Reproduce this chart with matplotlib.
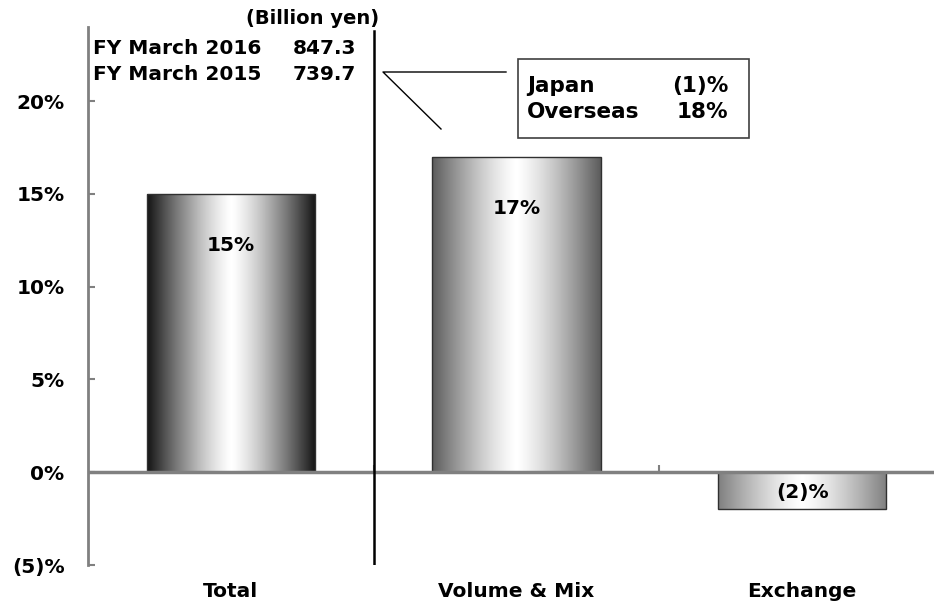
import numpy as np
import matplotlib.pyplot as plt
from matplotlib.patches import Rectangle
from matplotlib.lines import Line2D

# sales growth breakdown (percent)
categories = ['Total', 'Volume & Mix', 'Exchange']
growth = [15, 17, -2]
growth_labels = ['15%', '17%', '(2)%']
yticks = [-5, 0, 5, 10, 15, 20]
ytick_labels = ['(5)%', '0%', '5%', '10%', '15%', '20%']
fy_rows = [('FY March 2016', '847.3'), ('FY March 2015', '739.7')]
region_rows = [('Japan', '(1)%'), ('Overseas', '18%')]

# darkest shade at bar edges (white in the middle)
edge_shade = [0.08, 0.36, 0.5]

plt.rcParams['font.family'] = 'DejaVu Sans'
plt.rcParams['font.weight'] = 'bold'
fs = 14.5

W, H = 934, 607
fig = plt.figure(figsize=(W / 100, H / 100), dpi=100)
ax = fig.add_axes([88 / W, 1 - 565 / H, (945 - 88) / W, (565 - 27) / H])

def fx(px):
    return px / W

def fy(py):
    return 1 - py / H

grey = '#808080'
x = np.arange(len(categories))
bars = ax.bar(x, growth, width=0.59, facecolor='none', edgecolor='#303030',
              linewidth=1.0, zorder=4)

# cylinder-like shading for each bar
t = np.linspace(0, 1, 256)
shape = 1 - np.abs(2 * t - 1) ** 1.3
for bar, dark in zip(bars, edge_shade):
    grad = (dark + (1 - dark) * shape)[None, :]
    x0, y0 = bar.get_x(), bar.get_y()
    im = ax.imshow(grad, extent=[x0, x0 + bar.get_width(), y0, y0 + bar.get_height()],
                   aspect='auto', cmap='gray', vmin=0, vmax=1, zorder=3,
                   interpolation='bilinear')
    im.set_clip_path(bar)

for xi, v, lab in zip(x, growth, growth_labels):
    if v > 0:
        ax.annotate(lab, (xi, v), xytext=(0, -37), textcoords='offset points',
                    ha='center', va='center', fontsize=fs, fontweight='bold', zorder=6)
    else:
        ax.text(xi, v / 2 - 0.1, lab, ha='center', va='center',
                fontsize=fs, fontweight='bold', zorder=6)

ax.set_xlim(-0.5, 2.5)
ax.set_ylim(-5, 24)

ax.axhline(0, color=grey, linewidth=2.5, zorder=5)
ax.vlines([0.5, 1.5], 0, 0.4, color=grey, linewidth=1.5, zorder=5)
ax.axvline(0.5, ymin=0, ymax=(23.8 + 5) / 29, color='black', linewidth=1.8, zorder=6)

for s in ['top', 'right', 'bottom']:
    ax.spines[s].set_visible(False)
ax.spines['left'].set_color(grey)
ax.spines['left'].set_linewidth(2)

ax.set_yticks(yticks, ytick_labels)
ax.tick_params(axis='y', direction='in', length=5, width=1.5, color=grey,
               pad=17, labelsize=fs)
ax.set_xticks(x, categories)
ax.tick_params(axis='x', length=0, pad=12, labelsize=fs)
for lab in ax.get_xticklabels() + ax.get_yticklabels():
    lab.set_fontweight('bold')

# unit and fiscal-year totals
fig.text(fx(313), fy(18), '(Billion yen)', ha='center', va='center',
         fontsize=14, fontweight='bold')
for i, (name, val) in enumerate(fy_rows):
    yy = fy(48 + 27 * i)
    fig.text(fx(93), yy, name, ha='left', va='center', fontsize=fs, fontweight='bold')
    fig.text(fx(356), yy, val, ha='right', va='center', fontsize=fs, fontweight='bold')

# callout box for Volume & Mix
fig.add_artist(Rectangle((fx(518), fy(138)), fx(749) - fx(518), fy(59) - fy(138),
                         transform=fig.transFigure, facecolor='white',
                         edgecolor='#404040', linewidth=1.2))
fig.add_artist(Line2D([fx(506), fx(383), fx(441)], [fy(72), fy(72), fy(129)],
                      transform=fig.transFigure, color='black', linewidth=1.0))
for i, (name, val) in enumerate(region_rows):
    yy = fy(86 + 26 * i)
    fig.text(fx(527), yy, name, ha='left', va='center', fontsize=15.5, fontweight='bold')
    fig.text(fx(728), yy, val, ha='right', va='center', fontsize=15.5, fontweight='bold')

fig.savefig('out.png', dpi=100)
